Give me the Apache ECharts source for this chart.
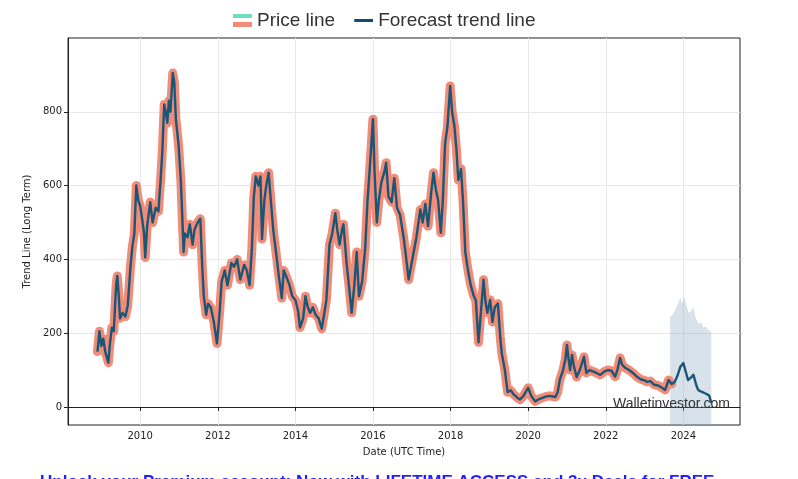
<!DOCTYPE html>
<html>
<head>
<meta charset="utf-8">
<script src="https://cdn.jsdelivr.net/npm/echarts@6/dist/echarts.min.js"></script>
<style>html,body{margin:0;padding:0;background:#fff;overflow:hidden;}#chart{width:798px;height:479px;}</style>
</head>
<body>
<div id="chart"></div>
<script>
// ---- data (decimal years) ----
var priceDates = [2008.90,2008.95,2009.00,2009.05,2009.10,2009.18,2009.22,2009.27,2009.32,2009.38,2009.41,2009.45,2009.48,2009.55,2009.62,2009.68,2009.75,2009.80,2009.85,2009.90,2009.95,2010.00,2010.05,2010.10,2010.13,2010.18,2010.26,2010.32,2010.40,2010.47,2010.53,2010.57,2010.62,2010.66,2010.70,2010.74,2010.78,2010.84,2010.88,2010.92,2010.99,2011.05,2011.12,2011.15,2011.22,2011.28,2011.35,2011.40,2011.48,2011.55,2011.60,2011.64,2011.70,2011.75,2011.82,2011.90,2011.98,2012.05,2012.10,2012.18,2012.25,2012.35,2012.42,2012.50,2012.58,2012.68,2012.75,2012.82,2012.88,2012.93,2012.98,2013.05,2013.10,2013.14,2013.20,2013.25,2013.31,2013.36,2013.43,2013.50,2013.58,2013.65,2013.70,2013.76,2013.85,2013.92,2014.00,2014.07,2014.12,2014.20,2014.26,2014.32,2014.38,2014.45,2014.52,2014.60,2014.68,2014.74,2014.80,2014.88,2014.95,2015.03,2015.08,2015.14,2015.20,2015.24,2015.32,2015.40,2015.45,2015.52,2015.58,2015.64,2015.72,2015.80,2015.86,2015.92,2016.00,2016.04,2016.10,2016.15,2016.22,2016.30,2016.34,2016.40,2016.48,2016.55,2016.62,2016.70,2016.79,2016.86,2016.92,2016.98,2017.05,2017.12,2017.22,2017.28,2017.35,2017.42,2017.50,2017.56,2017.62,2017.68,2017.75,2017.80,2017.86,2017.92,2017.99,2018.04,2018.10,2018.15,2018.20,2018.27,2018.32,2018.38,2018.45,2018.52,2018.60,2018.65,2018.72,2018.80,2018.85,2018.90,2018.95,2019.02,2019.08,2019.14,2019.22,2019.28,2019.32,2019.40,2019.47,2019.55,2019.62,2019.72,2019.79,2019.88,2020.00,2020.08,2020.18,2020.30,2020.45,2020.55,2020.70,2020.76,2020.82,2020.90,2020.96,2021.00,2021.04,2021.08,2021.13,2021.18,2021.25,2021.33,2021.38,2021.44,2021.50,2021.58,2021.70,2021.80,2021.86,2021.95,2022.05,2022.15,2022.24,2022.30,2022.37,2022.42,2022.50,2022.60,2022.70,2022.80,2022.90,2023.00,2023.06,2023.15,2023.25,2023.35,2023.45,2023.53,2023.62,2023.70];
var priceValues = [150,205,165,185,150,120,170,215,205,330,355,300,240,255,245,275,380,435,470,600,560,545,510,470,405,490,555,500,540,530,620,690,820,800,770,830,800,905,880,780,710,610,420,470,460,495,440,480,500,510,380,300,250,280,270,230,172,260,340,370,330,390,380,400,345,385,370,330,430,570,625,600,625,455,560,600,635,570,480,420,350,295,370,355,330,300,290,260,215,240,300,270,255,270,250,240,212,250,290,440,470,525,480,440,480,495,390,310,255,330,420,300,340,430,560,650,780,640,500,560,610,640,662,570,555,620,540,520,460,400,345,380,420,460,535,500,550,490,580,635,590,560,472,560,715,760,870,800,760,700,615,645,560,420,370,330,300,290,175,280,345,285,255,290,230,270,280,190,145,100,40,45,35,25,20,30,52,30,15,22,28,30,27,40,75,100,130,168,130,100,141,110,81,100,95,136,92,100,95,90,87,95,100,98,82,100,133,115,106,100,92,82,75,72,68,70,60,58,52,46,73,62];
var forecastDates = [2023.78,2023.85,2023.92,2023.97,2024.00,2024.05,2024.12,2024.20,2024.26,2024.33,2024.38,2024.45,2024.50,2024.60,2024.67,2024.72];
var forecastValues = [68,85,108,105,119,100,73,80,87,60,46,42,38,35,30,11];
var bandDates = [2023.66,2023.72,2023.80,2023.88,2023.92,2023.97,2024.02,2024.08,2024.14,2024.20,2024.26,2024.32,2024.40,2024.46,2024.52,2024.58,2024.63,2024.72];
var bandUpper = [245,250,265,285,295,280,300,275,255,260,270,240,225,230,215,218,210,203];
var xTickLabels = [2010,2012,2014,2016,2018,2020,2022,2024];
var yTickLabels = [0,200,400,600,800];

function pairs(xs, ys){ return xs.map(function(x,i){ return [x, ys[i]]; }); }
var priceData = pairs(priceDates, priceValues);
var trendData = priceData.concat(pairs(forecastDates, forecastValues));
var bandData = pairs(bandDates, bandUpper);

var priceIcon = 'image://data:image/svg+xml;utf8,' + encodeURIComponent('<svg xmlns="http://www.w3.org/2000/svg" width="19" height="13"><rect x="0" y="0" width="19" height="4" fill="#6fe0bf"/><rect x="0" y="8" width="19" height="5" fill="#f08c78"/></svg>');
var trendIcon = 'image://data:image/svg+xml;utf8,' + encodeURIComponent('<svg xmlns="http://www.w3.org/2000/svg" width="19" height="13"><rect x="0" y="5" width="19" height="3" fill="#0f4c73"/></svg>');

var chart = echarts.init(document.getElementById('chart'), null, {renderer:'canvas'});
chart.setOption({
  animation: false,
  backgroundColor: '#ffffff',
  legend: {
    left: 228, top: 6,
    itemWidth: 19, itemHeight: 13, itemGap: 19,
    textStyle: { fontFamily: 'Liberation Sans', fontSize: 19, color: '#333333' },
    data: [
      { name: 'Price line', icon: priceIcon },
      { name: 'Forecast trend line', icon: trendIcon }
    ]
  },
  grid: { left: 68, right: 58, top: 38, bottom: 54, show: true, borderColor: '#222', borderWidth: 1, backgroundColor: 'transparent' },
  xAxis: {
    type: 'value', min: 2008.14, max: 2025.46,
    name: 'Date (UTC Time)', nameLocation: 'middle', nameGap: 22,
    nameTextStyle: { fontFamily: 'DejaVu Sans', fontSize: 10, color: '#222' },
    axisLine: { show: true, lineStyle: { color: '#222', width: 1 } },
    axisTick: { show: true, length: 4, lineStyle: { color: '#222' }, customValues: xTickLabels },
    axisLabel: { customValues: xTickLabels, fontFamily: 'DejaVu Sans', fontSize: 10, color: '#222', margin: 6, formatter: function(v){ return String(Math.round(v)); } },
    splitLine: { show: true, lineStyle: { color: '#e8e8e8', width: 1 } }
  },
  yAxis: {
    type: 'value', min: -49, max: 1000,
    name: 'Trend Line (Long Term)', nameLocation: 'middle', nameGap: 28,
    nameTextStyle: { fontFamily: 'DejaVu Sans', fontSize: 10, color: '#222' },
    axisLine: { show: true, lineStyle: { color: '#222', width: 1 } },
    axisTick: { show: true, length: 4, lineStyle: { color: '#222' }, customValues: yTickLabels },
    axisLabel: { customValues: yTickLabels, fontFamily: 'DejaVu Sans', fontSize: 10, color: '#222', margin: 6 },
    splitLine: { show: true, lineStyle: { color: '#e8e8e8', width: 1 } }
  },
  graphic: [
    { type: 'text', left: 613, top: 397, z: 50, style: { text: 'Walletinvestor.com', fontFamily: 'Liberation Sans', fontSize: 14, fill: '#333' } },
    { type: 'text', left: 40, top: 474, z: 50, style: { text: 'Unlock your Premium account: Now with LIFETIME ACCESS and 3x Deals for FREE', fontFamily: 'Liberation Sans', fontWeight: 'bold', fontSize: 17, fill: '#1f1fff' } }
  ],
  series: [
    { name: 'Forecast band', type: 'line', data: bandData, symbol: 'none', silent: true,
      lineStyle: { width: 0 }, areaStyle: { origin: 'start', color: 'rgba(130,165,190,0.45)' }, z: 1 },
    { name: 'Price line', type: 'line', data: priceData, symbol: 'none', color: '#f08c78',
      lineStyle: { width: 9, color: '#f08c78', join: 'round', cap: 'round' }, z: 2 },
    { name: 'Forecast trend line', type: 'line', data: trendData, symbol: 'none', color: '#0f4c73',
      lineStyle: { width: 2.4, color: '#1b5676', join: 'round' }, z: 3 }
  ]
});
</script>
</body>
</html>
